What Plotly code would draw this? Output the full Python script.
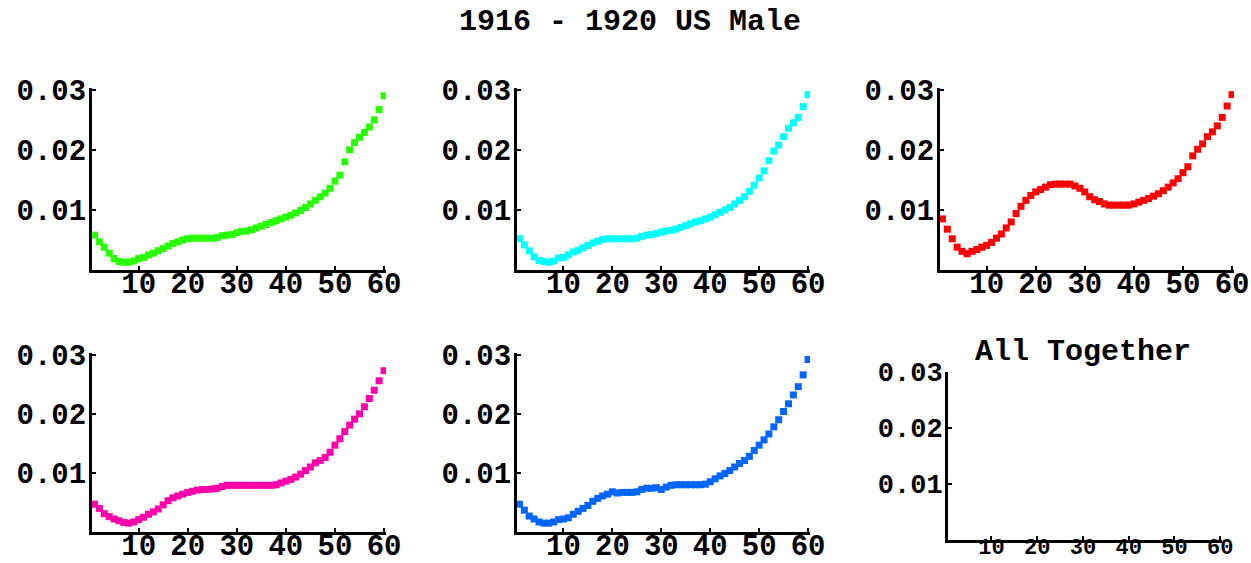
import plotly.graph_objects as go

ages = list(range(1, 61))

green = [0.0058, 0.0047, 0.0038, 0.0028, 0.0019, 0.0014, 0.0013, 0.0013, 0.0015, 0.0019,
         0.0021, 0.0025, 0.0028, 0.0032, 0.0036, 0.0040, 0.0044, 0.0047, 0.0050, 0.0052,
         0.0053, 0.0053, 0.0053, 0.0053, 0.0053, 0.0054, 0.0057, 0.0058, 0.0059, 0.0062,
         0.0064, 0.0065, 0.0067, 0.0070, 0.0073, 0.0076, 0.0079, 0.0082, 0.0085, 0.0088,
         0.0091, 0.0095, 0.0099, 0.0104, 0.0110, 0.0116, 0.0122, 0.0128, 0.0136, 0.0148,
         0.0158, 0.0180, 0.0200, 0.0212, 0.0221, 0.0229, 0.0238, 0.0250, 0.0267, 0.0290]

cyan = [0.0052, 0.0042, 0.0032, 0.0022, 0.0016, 0.0014, 0.0013, 0.0015, 0.0020, 0.0021,
        0.0025, 0.0030, 0.0033, 0.0037, 0.0041, 0.0045, 0.0048, 0.0051, 0.0052, 0.0052,
        0.0052, 0.0052, 0.0052, 0.0052, 0.0053, 0.0056, 0.0058, 0.0059, 0.0061, 0.0063,
        0.0065, 0.0066, 0.0068, 0.0071, 0.0074, 0.0077, 0.0080, 0.0082, 0.0085, 0.0088,
        0.0092, 0.0096, 0.0100, 0.0104, 0.0110, 0.0116, 0.0122, 0.0131, 0.0141, 0.0153,
        0.0165, 0.0182, 0.0198, 0.0208, 0.0222, 0.0236, 0.0245, 0.0254, 0.0272, 0.0292]

red = [0.0085, 0.0068, 0.0052, 0.0038, 0.0031, 0.0027, 0.0031, 0.0034, 0.0038, 0.0041,
       0.0046, 0.0053, 0.0060, 0.0070, 0.0080, 0.0094, 0.0106, 0.0116, 0.0124, 0.0130,
       0.0134, 0.0138, 0.0142, 0.0143, 0.0143, 0.0143, 0.0143, 0.0140, 0.0136, 0.0130,
       0.0122, 0.0117, 0.0114, 0.0110, 0.0108, 0.0108, 0.0108, 0.0108, 0.0108, 0.0110,
       0.0113, 0.0116, 0.0119, 0.0123, 0.0127, 0.0132, 0.0138, 0.0145, 0.0152, 0.0162,
       0.0172, 0.0190, 0.0201, 0.0210, 0.0222, 0.0230, 0.0240, 0.0254, 0.0273, 0.0292]

pink = [0.0047, 0.0040, 0.0031, 0.0026, 0.0022, 0.0019, 0.0016, 0.0015, 0.0017, 0.0021,
        0.0025, 0.0030, 0.0034, 0.0039, 0.0046, 0.0053, 0.0058, 0.0061, 0.0064, 0.0067,
        0.0069, 0.0071, 0.0072, 0.0072, 0.0073, 0.0074, 0.0077, 0.0079, 0.0079, 0.0079,
        0.0079, 0.0079, 0.0079, 0.0079, 0.0079, 0.0079, 0.0079, 0.0080, 0.0083, 0.0086,
        0.0089, 0.0093, 0.0098, 0.0104, 0.0110, 0.0117, 0.0121, 0.0126, 0.0135, 0.0147,
        0.0158, 0.0170, 0.0181, 0.0191, 0.0200, 0.0212, 0.0226, 0.0240, 0.0256, 0.0273]

blue = [0.0047, 0.0037, 0.0027, 0.0022, 0.0017, 0.0015, 0.0015, 0.0017, 0.0021, 0.0022,
        0.0024, 0.0030, 0.0035, 0.0040, 0.0045, 0.0052, 0.0057, 0.0061, 0.0064, 0.0068,
        0.0066, 0.0067, 0.0067, 0.0067, 0.0068, 0.0072, 0.0074, 0.0074, 0.0075, 0.0072,
        0.0076, 0.0079, 0.0080, 0.0080, 0.0080, 0.0080, 0.0080, 0.0080, 0.0081, 0.0085,
        0.0090, 0.0095, 0.0099, 0.0104, 0.0110, 0.0116, 0.0121, 0.0128, 0.0138, 0.0147,
        0.0156, 0.0166, 0.0178, 0.0190, 0.0204, 0.0217, 0.0232, 0.0246, 0.0266, 0.0292]

x_ticks = [10, 20, 30, 40, 50, 60]
x_tick_labels = ["10", "20", "30", "40", "50", "60"]
y_ticks = [0.01, 0.02, 0.03]
y_tick_labels = ["0.01", "0.02", "0.03"]

title_text = "1916 - 1920 US Male"
panel6_title = "All Together"

W, H = 1251, 563
FONT = "Liberation Mono"

series = [green, cyan, red, pink, blue]
colors = ["rgb(40,255,0)", "rgb(0,255,255)", "rgb(255,0,0)", "rgb(255,0,170)", "rgb(0,102,255)"]

# pixel boxes (x0, x1, ytop, ybottom)
boxes = [
    (92, 386, 88, 270),
    (517, 810, 88, 270),
    (940, 1234, 88, 270),
    (92, 386, 353, 532),
    (517, 810, 353, 532),
    (948, 1222, 372, 540),
]
yranges = [[0, 0.0303]] * 5 + [[0, 0.0300]]

fig = go.Figure()
layout = dict(
    width=W, height=H,
    margin=dict(l=0, r=0, t=0, b=0, autoexpand=False),
    paper_bgcolor="white", plot_bgcolor="white",
    showlegend=False,
)

for i, (x0, x1, yt, yb) in enumerate(boxes):
    n = i + 1
    xa = "xaxis" if n == 1 else f"xaxis{n}"
    ya = "yaxis" if n == 1 else f"yaxis{n}"
    yfs = 29 if n < 6 else 27
    xfs = 29 if n < 6 else 22
    layout[xa] = dict(
        domain=[x0 / W, x1 / W], anchor=f"y{'' if n == 1 else n}",
        range=[0.5, 60.4], showgrid=False, zeroline=False, automargin=False,
        showline=True, linecolor="black", linewidth=3,
        ticks="inside", ticklen=4, tickwidth=2, tickcolor="black",
        tickvals=x_ticks, ticktext=x_tick_labels,
        ticklabelstandoff=-15,
        tickfont=dict(family=FONT, size=xfs, color="black", weight="bold"),
    )
    layout[ya] = dict(
        domain=[1 - yb / H, 1 - yt / H], anchor=f"x{'' if n == 1 else n}",
        range=yranges[i], showgrid=False, zeroline=False, automargin=False,
        showline=True, linecolor="black", linewidth=3,
        ticks="inside", ticklen=4, tickwidth=2, tickcolor="black",
        tickvals=y_ticks, ticktext=y_tick_labels, ticklabelstandoff=-3,
        tickfont=dict(family=FONT, size=yfs, color="black", weight="bold"),
    )
    if n <= 5:
        fig.add_trace(go.Scatter(
            x=ages, y=series[i], mode="markers",
            marker=dict(symbol="square", size=7, color=colors[i], line=dict(width=0)),
            xaxis=f"x{'' if n == 1 else n}", yaxis=f"y{'' if n == 1 else n}",
            hoverinfo="skip",
        ))
    else:
        fig.add_trace(go.Scatter(
            x=[], y=[], mode="markers",
            xaxis=f"x{n}", yaxis=f"y{n}",
        ))

layout["annotations"] = [
    dict(text=title_text, x=630 / W, y=1 - 22 / H, xref="paper", yref="paper",
         showarrow=False, xanchor="center", yanchor="middle",
         font=dict(family=FONT, size=30, color="black", weight="bold")),
    dict(text=panel6_title, x=1083 / W, y=1 - 352 / H, xref="paper", yref="paper",
         showarrow=False, xanchor="center", yanchor="middle",
         font=dict(family=FONT, size=30, color="black", weight="bold")),
]

fig.update_layout(**layout)
fig.write_html(
    "out.html",
    config={"displayModeBar": False},
    post_script="document.body.style.margin='0';document.body.style.overflow='hidden';",
)
